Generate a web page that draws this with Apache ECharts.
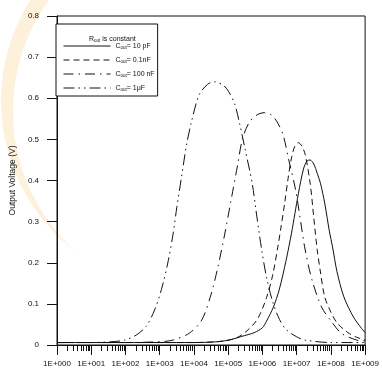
<!DOCTYPE html>
<html>
<head>
<meta charset="utf-8">
<script src="https://cdn.jsdelivr.net/npm/echarts@6/dist/echarts.min.js"></script>
<style>
  html, body { margin: 0; padding: 0; background: #fff; }
  #chart { width: 382px; height: 370px; }
</style>
</head>
<body>
<div id="chart"></div>
<script>
// x = log10(frequency), y = output voltage (V)
const c10pF = [
  [0, 0.006], [1, 0.006], [2, 0.006], [3, 0.006], [4, 0.006], [4.7, 0.008],
  [5.08, 0.013], [5.4, 0.021], [5.76, 0.03], [6.0, 0.042], [6.12, 0.058],
  [6.32, 0.092], [6.49, 0.134], [6.69, 0.205], [6.85, 0.272], [6.95, 0.32],
  [7.05, 0.368], [7.2, 0.428], [7.3, 0.447], [7.39, 0.45], [7.5, 0.44],
  [7.6, 0.418], [7.7, 0.392], [7.82, 0.345], [7.96, 0.275], [8.05, 0.238],
  [8.18, 0.178], [8.38, 0.117], [8.66, 0.068], [8.9, 0.04], [9, 0.03]
];
const c01nF = [
  [0, 0.006], [1, 0.006], [2, 0.006], [3, 0.006], [4, 0.006], [4.8, 0.009],
  [5.2, 0.016], [5.47, 0.029], [5.84, 0.061], [6.12, 0.115], [6.3, 0.17],
  [6.45, 0.238], [6.55, 0.29], [6.65, 0.345], [6.75, 0.405], [6.85, 0.455],
  [6.95, 0.484], [7.05, 0.492], [7.15, 0.484], [7.25, 0.463], [7.4, 0.39],
  [7.5, 0.31], [7.6, 0.232], [7.7, 0.175], [7.82, 0.117], [8.0, 0.08],
  [8.18, 0.054], [8.5, 0.03], [8.75, 0.019], [9, 0.012]
];
const c100nF = [
  [0, 0.006], [1, 0.006], [2, 0.006], [3, 0.008], [3.39, 0.012], [3.87, 0.029],
  [4.23, 0.061], [4.5, 0.123], [4.7, 0.19], [4.9, 0.27], [5.08, 0.35],
  [5.28, 0.44], [5.42, 0.502], [5.62, 0.542], [5.85, 0.56], [6.07, 0.565],
  [6.25, 0.56], [6.41, 0.545], [6.6, 0.512], [6.77, 0.45], [6.97, 0.377],
  [7.11, 0.304], [7.25, 0.231], [7.45, 0.158], [7.73, 0.092], [8.01, 0.058],
  [8.3, 0.029], [8.75, 0.012], [9, 0.01]
];
const c1uF = [
  [0, 0.006], [1, 0.006], [1.6, 0.008], [1.98, 0.012], [2.31, 0.024],
  [2.6, 0.045], [2.85, 0.085], [3.05, 0.135], [3.25, 0.205], [3.39, 0.27],
  [3.5, 0.335], [3.64, 0.41], [3.78, 0.485], [3.92, 0.54], [4.15, 0.608],
  [4.4, 0.634], [4.6, 0.64], [4.85, 0.632], [5.0, 0.618], [5.19, 0.586],
  [5.33, 0.54], [5.5, 0.474], [5.7, 0.394], [5.84, 0.311], [5.98, 0.231],
  [6.12, 0.165], [6.3, 0.105], [6.5, 0.062], [6.69, 0.038], [7.0, 0.02],
  [7.25, 0.012], [8, 0.006], [9, 0.006]
];
const seriesNames = ['10 pF', '0.1nF', '100 nF', '1\u03bcF'];
const yTicks = [0, 0.1, 0.2, 0.3, 0.4, 0.5, 0.6, 0.7, 0.8];

// minor ticks at 2..9 of every decade
let minorTicks = [];
for (let d = 0; d < 9; d++) {
  for (let k = 2; k <= 9; k++) minorTicks.push(d + Math.log10(k));
}

let chart = echarts.init(document.getElementById('chart'));
let font = 'Liberation Sans, Arial, sans-serif';
let ink = '#111';

let makeSeries = (name, data, dash) => ({
  name: name,
  type: 'line',
  data: data,
  smooth: 0.3,
  showSymbol: false,
  symbol: 'none',
  itemStyle: {color: ink},
  lineStyle: {color: ink, width: 1, type: dash}
});

let subRich = {s: {fontFamily: font, fontSize: 4.5, color: ink, padding: [3, 0, 0, 0]}};

chart.setOption({
  animation: false,
  backgroundColor: '#fff',
  color: [ink, ink, ink, ink],
  // faint watermark crescent behind the plot
  graphic: [
    {type: 'circle', z: -10, shape: {cx: 190, cy: 101, r: 189},
      style: {fill: 'rgba(246,185,80,0.2)'}, silent: true},
    {type: 'circle', z: -9, shape: {cx: 202, cy: 111, r: 189},
      style: {fill: '#fff'}, silent: true}
  ],
  title: {
    text: 'R{s|out} is constant',
    left: 84,
    top: 30,
    textStyle: {
      fontFamily: font, fontSize: 7, fontWeight: 'normal', color: ink,
      rich: subRich
    }
  },
  legend: {
    orient: 'vertical',
    left: 56,
    top: 24,
    padding: [18, 3, 4, 7],
    itemWidth: 47,
    itemHeight: 10,
    itemGap: 6,
    borderColor: ink,
    borderWidth: 1,
    backgroundColor: '#fff',
    itemStyle: {opacity: 0},
    lineStyle: {width: 1, color: ink},
    data: seriesNames,
    formatter: name => 'C{s|out}= ' + name,
    textStyle: {
      fontFamily: font, fontSize: 7, color: ink,
      rich: subRich
    }
  },
  grid: {
    left: 53, top: 16, right: 10, bottom: 25,
    show: true, borderColor: ink, borderWidth: 1
  },
  xAxis: [
    {
      type: 'value',
      min: 0, max: 9, interval: 1,
      axisLine: {lineStyle: {color: ink, width: 1}},
      axisTick: {inside: false, length: 10, lineStyle: {color: ink}},
      splitLine: {show: false},
      axisLabel: {
        margin: 15,
        fontFamily: font, fontSize: 8, color: ink,
        showMaxLabel: true,
        formatter: v => '1E+' + String(v).padStart(3, '0')
      }
    },
    {
      type: 'value',
      min: 0, max: 9,
      position: 'bottom',
      axisLine: {show: false},
      axisLabel: {show: false},
      splitLine: {show: false},
      axisTick: {show: true, inside: false, length: 6, customValues: minorTicks, lineStyle: {color: ink}}
    }
  ],
  yAxis: {
    type: 'value',
    min: 0, max: 0.8, interval: 0.1,
    name: 'Output Voltage (V)',
    nameLocation: 'middle',
    nameGap: 30,
    nameTextStyle: {fontFamily: font, fontSize: 8.5, color: ink},
    axisLine: {show: true, lineStyle: {color: ink, width: 1}},
    axisTick: {show: true, inside: false, length: 10, lineStyle: {color: ink}},
    splitLine: {show: false},
    axisLabel: {
      margin: 18, fontFamily: font, fontSize: 8, color: ink,
      customValues: yTicks,
      formatter: v => String(Math.round(v * 10) / 10)
    }
  },
  series: [
    makeSeries(seriesNames[0], c10pF, 'solid'),
    makeSeries(seriesNames[1], c01nF, [6, 4]),
    makeSeries(seriesNames[2], c100nF, [10, 5, 1.5, 5]),
    makeSeries(seriesNames[3], c1uF, [11, 4, 1.5, 4, 1.5, 4])
  ]
});
</script>
</body>
</html>
